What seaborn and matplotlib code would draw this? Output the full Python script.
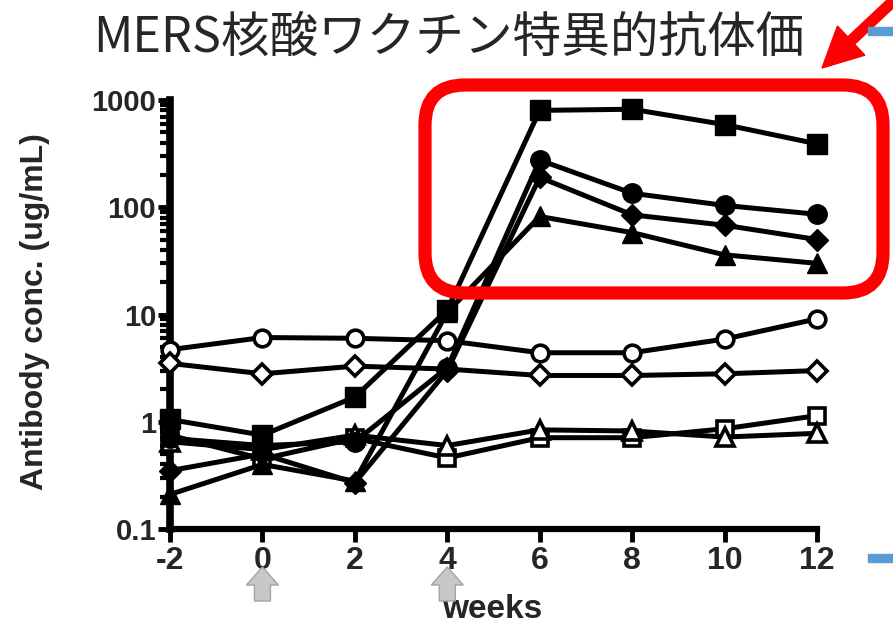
import matplotlib
matplotlib.use("Agg")
import matplotlib.pyplot as plt
import numpy as np
import pandas as pd
import seaborn as sns
from matplotlib.patches import FancyBboxPatch, FancyArrow, Rectangle, Polygon
from matplotlib.ticker import LogLocator, NullFormatter

# ---- data -------------------------------------------------------------
weeks = [-2, 0, 2, 4, 6, 8, 10, 12]
dose_weeks = [0, 4]
y_ticks = [0.1, 1, 10, 100, 1000]
y_tick_labels = ["0.1", "1", "10", "100", "1000"]

# open symbols (control animals)
open_circle = [4.7, 6.1, 6.0, 5.7, 4.4, 4.4, 5.9, 9.1]
open_diamond = [3.5, 2.8, 3.3, 3.1, 2.7, 2.7, 2.8, 3.0]
open_square = [0.75, 0.45, 0.70, 0.46, 0.71, 0.71, 0.86, 1.14]
open_triangle = [0.65, 0.55, 0.75, 0.60, 0.84, 0.82, 0.72, 0.78]
# filled symbols (vaccinated animals)
filled_triangle = [0.21, 0.40, 0.28, 10.5, 82, 58, 36, 30]
filled_circle = [0.70, 0.60, 0.65, 3.2, 275, 135, 104, 86]
filled_diamond = [0.35, 0.50, 0.27, 3.0, 190, 85, 68, 50]
filled_square = [1.05, 0.75, 1.7, 11, 800, 820, 590, 390]

title = "MERS核酸ワクチン特異的抗体価"
x_label = "weeks"
y_label = "Antibody conc. (ug/mL)"

series = {
    "open_circle": open_circle,
    "open_diamond": open_diamond,
    "open_square": open_square,
    "open_triangle": open_triangle,
    "filled_triangle": filled_triangle,
    "filled_circle": filled_circle,
    "filled_diamond": filled_diamond,
    "filled_square": filled_square,
}
df = pd.DataFrame(
    [(name, w, v) for name, vals in series.items() for w, v in zip(weeks, vals)],
    columns=["animal", "week", "conc"],
)

marker_style = {
    "open_circle": dict(marker="o", markersize=12, markerfacecolor="white", markeredgewidth=2.6),
    "open_diamond": dict(marker="D", markersize=10, markerfacecolor="white", markeredgewidth=2.6),
    "open_square": dict(marker="s", markersize=12, markerfacecolor="white", markeredgewidth=2.6),
    "open_triangle": dict(marker="^", markersize=13, markerfacecolor="white", markeredgewidth=2.6),
    "filled_triangle": dict(marker="^", markersize=15, markerfacecolor="black", markeredgewidth=1),
    "filled_circle": dict(marker="o", markersize=14, markerfacecolor="black", markeredgewidth=1),
    "filled_diamond": dict(marker="D", markersize=11, markerfacecolor="black", markeredgewidth=1),
    "filled_square": dict(marker="s", markersize=14, markerfacecolor="black", markeredgewidth=1),
}

# ---- figure -----------------------------------------------------------
sns.set_style("white")
plt.rcParams["font.family"] = ["Liberation Sans", "DejaVu Sans"]

W, H = 893, 630
fig = plt.figure(figsize=(W / 100, H / 100), dpi=100)
ax = fig.add_axes([170 / W, 1 - 529 / H, (817 - 170) / W, (529 - 100) / H])
ax.set_yscale("log")

for name in series:
    sns.lineplot(
        data=df[df["animal"] == name], x="week", y="conc", ax=ax,
        color="black", linewidth=3.6, markeredgecolor="black",
        errorbar=None, clip_on=False, zorder=3, **marker_style[name],
    )

ax.set_xlim(-2, 12)
ax.set_ylim(0.1, 1000)
ax.set_xticks(weeks)
ax.set_xticklabels([str(w) for w in weeks], fontweight="bold", fontsize=23)
ax.set_yticks(y_ticks)
ax.set_yticklabels(y_tick_labels, fontweight="bold", fontsize=21)
ax.yaxis.set_minor_locator(LogLocator(base=10, subs=np.arange(2, 10)))
ax.yaxis.set_minor_formatter(NullFormatter())

for side in ("top", "right"):
    ax.spines[side].set_visible(False)
ax.spines["left"].set_linewidth(5.5)
ax.spines["bottom"].set_linewidth(4.5)
for side in ("left", "bottom"):
    ax.spines[side].set_color("black")
    ax.spines[side].set_capstyle("projecting")

ax.tick_params(axis="y", which="major", direction="out", length=9, width=3.5,
               color="black", pad=1, left=True)
ax.tick_params(axis="y", which="minor", direction="out", length=7, width=3,
               color="black", left=True)
ax.tick_params(axis="x", which="major", direction="out", length=9, width=3.5,
               color="black", pad=3, bottom=True)
ax.set_xlabel(x_label, fontweight="bold", fontsize=24)
ax.set_ylabel(y_label, fontweight="bold", fontsize=23)
ax.xaxis.set_label_coords((492 - 170) / (817 - 170), -(594 - 529) / (529 - 100))
ax.yaxis.set_label_coords(-(170 - 50) / (817 - 170), (529 - 312) / (529 - 100))
ax.grid(False)

fig.text(449 / W, 1 - 38 / H, title, ha="center", va="center", fontsize=35,
         family=["Noto Sans CJK JP", "DejaVu Sans"])

# dosing arrows under the week axis
for w in dose_weeks:
    xp = ax.transData.transform((w, 1))[0]
    pts = [(xp, H - 567), (xp + 16, H - 585), (xp + 8, H - 585), (xp + 8, H - 601),
           (xp - 8, H - 601), (xp - 8, H - 585), (xp - 16, H - 585)]
    fig.add_artist(Polygon(pts, closed=True, facecolor="#c8c8c8", edgecolor="#a3a3a3",
                           linewidth=1, transform=None))

# highlight box around the vaccinated group
fig.add_artist(FancyBboxPatch((425, H - 293), 458, 208,
                              boxstyle="round,pad=0,rounding_size=40",
                              facecolor="none", edgecolor="#ff0000",
                              linewidth=9.5, transform=None))
fig.add_artist(FancyArrow(905, H + 10, -83, -78, width=10, head_width=40,
                          head_length=40, length_includes_head=True,
                          color="#ff0000", transform=None))
fig.add_artist(Rectangle((868, H - 35), 30, 8, color="#5b9bd5", transform=None))
fig.add_artist(Rectangle((868, H - 562), 30, 8, color="#5b9bd5", transform=None))

fig.savefig("out.png", dpi=100)
